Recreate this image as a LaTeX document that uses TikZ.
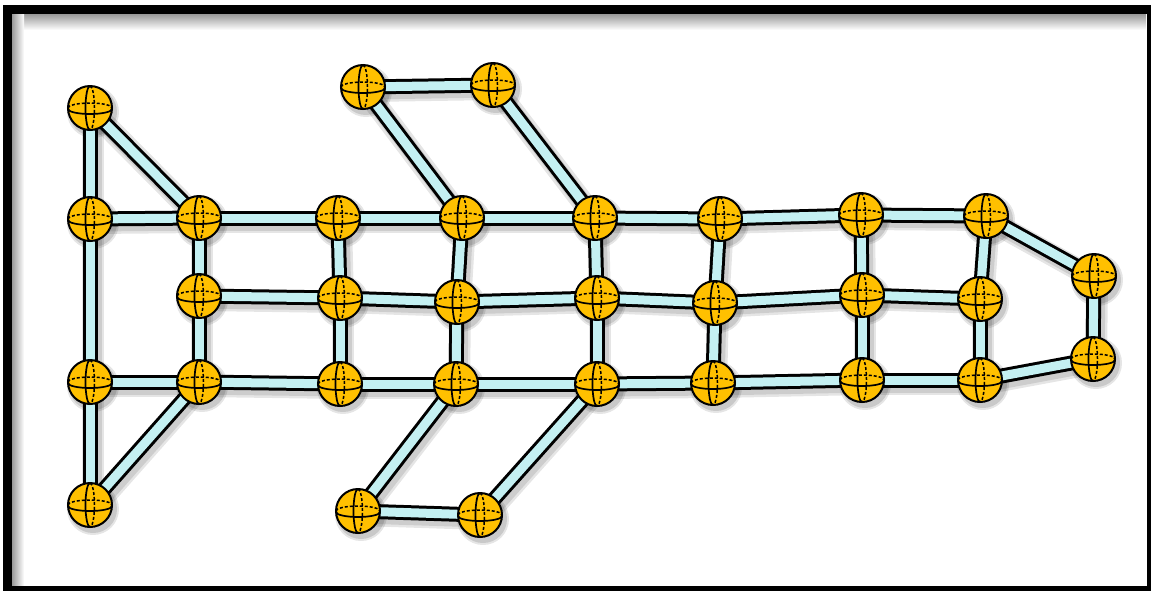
\documentclass[tikz,border=0pt]{standalone}
\pgfdeclarelayer{bot}
\pgfdeclarelayer{shd}
\pgfdeclarelayer{bars}
\pgfsetlayers{bot,shd,bars,main}
\definecolor{ballc}{RGB}{255,192,0}
\definecolor{barc}{RGB}{196,240,242}
\tikzset{
  ball/.style={circle, draw=black, line width=2, fill=ballc, minimum size=44, inner sep=0, outer sep=0,
    path picture={
      \coordinate (pc) at (path picture bounding box.center);
      \draw[line width=1.7] (pc) ++(-22,1) arc[start angle=180,end angle=0,x radius=22,y radius=5];
      \draw[line width=1.5, dash pattern=on 3pt off 2pt] (pc) ++(-22,0) arc[start angle=180,end angle=360,x radius=22,y radius=5];
      \draw[line width=1.7] (pc) ++(0,-22) arc[start angle=270,end angle=90,x radius=4.5,y radius=22];
      \draw[line width=1.5, dash pattern=on 3pt off 2pt] (pc) ++(0,-22) arc[start angle=-90,end angle=90,x radius=4.5,y radius=22];
    }},
  barline/.style={draw=black, line width=3, double=barc, double distance=9},
  barshade/.style={draw=black, opacity=.10, line cap=round},
}
\begin{document}
\begin{tikzpicture}[x=1pt,y=-1pt]
\useasboundingbox (0,0) rectangle (1151,590);
\clip (0,0) rectangle (1151,590);
\begin{pgfonlayer}{bot}
\fill[white] (0,0) rectangle (1151,590);
\shade[top color=black!40, bottom color=white] (12,14) rectangle (1146,30);
\shade[left color=black!40, right color=white] (12,14) rectangle (24,586);
\end{pgfonlayer}
\draw[line width=9] (7.5,9.5) rectangle (1151.5,590.5);

% nodes
\node[ball] (t1) at (90,108) {};
\node[ball] (a1) at (90,219) {};
\node[ball] (a2) at (199,218) {};
\node[ball] (a3) at (338,218) {};
\node[ball] (a4) at (462,218) {};
\node[ball] (a5) at (595,218) {};
\node[ball] (a6) at (720,219) {};
\node[ball] (a7) at (861,215) {};
\node[ball] (a8) at (986,216) {};
\node[ball] (b2) at (199,296) {};
\node[ball] (b3) at (340,298) {};
\node[ball] (b4) at (457,302) {};
\node[ball] (b5) at (597,298) {};
\node[ball] (b6) at (715,303) {};
\node[ball] (b7) at (862,295) {};
\node[ball] (b8) at (980,299) {};
\node[ball] (c1) at (90,382) {};
\node[ball] (c2) at (199,382) {};
\node[ball] (c3) at (340,384) {};
\node[ball] (c4) at (456,384) {};
\node[ball] (c5) at (597,384) {};
\node[ball] (c6) at (713,383) {};
\node[ball] (c7) at (862,380) {};
\node[ball] (c8) at (980,380) {};
\node[ball] (d1) at (90,505) {};
\node[ball] (u1) at (363,87) {};
\node[ball] (u2) at (493,85) {};
\node[ball] (l1) at (358,511) {};
\node[ball] (l2) at (480,515) {};
\node[ball] (r1) at (1094,276) {};
\node[ball] (r2) at (1093,359) {};

% ball shadows
\begin{pgfonlayer}{shd}
\foreach \n in {t1,a1,a2,a3,a4,a5,a6,a7,a8,b2,b3,b4,b5,b6,b7,b8,c1,c2,c3,c4,c5,c6,c7,c8,d1,u1,u2,l1,l2,r1,r2}{
  \fill[black, opacity=.10] ([shift={(3,4)}]\n.center) circle[radius=26];
  \fill[black, opacity=.12] ([shift={(3,4)}]\n.center) circle[radius=24];
}
\end{pgfonlayer}

% bars
\foreach \p/\q in {t1/a1, t1/a2, a1/a2, a2/a3, a3/a4, a4/a5, a5/a6, a6/a7, a7/a8,
  u1/u2, u1/a4, u2/a5, a8/r1, r1/r2, r2/c8,
  b2/b3, b3/b4, b4/b5, b5/b6, b6/b7, b7/b8,
  c1/c2, c2/c3, c3/c4, c4/c5, c5/c6, c6/c7, c7/c8,
  a1/c1, a2/b2, b2/c2, a3/b3, b3/c3, a4/b4, b4/c4, a5/b5, b5/c5,
  a6/b6, b6/c6, a7/b7, b7/c7, a8/b8, b8/c8,
  c1/d1, c2/d1, c4/l1, l1/l2, c5/l2}{
  \begin{pgfonlayer}{shd}
    \draw[barshade, line width=22] ([shift={(3,4)}]\p.center) -- ([shift={(3,4)}]\q.center);
    \draw[barshade, line width=17] ([shift={(3,4)}]\p.center) -- ([shift={(3,4)}]\q.center);
  \end{pgfonlayer}
  \begin{pgfonlayer}{bars}
    \draw[barline] (\p.center) -- (\q.center);
  \end{pgfonlayer}
}
\end{tikzpicture}
\end{document}
